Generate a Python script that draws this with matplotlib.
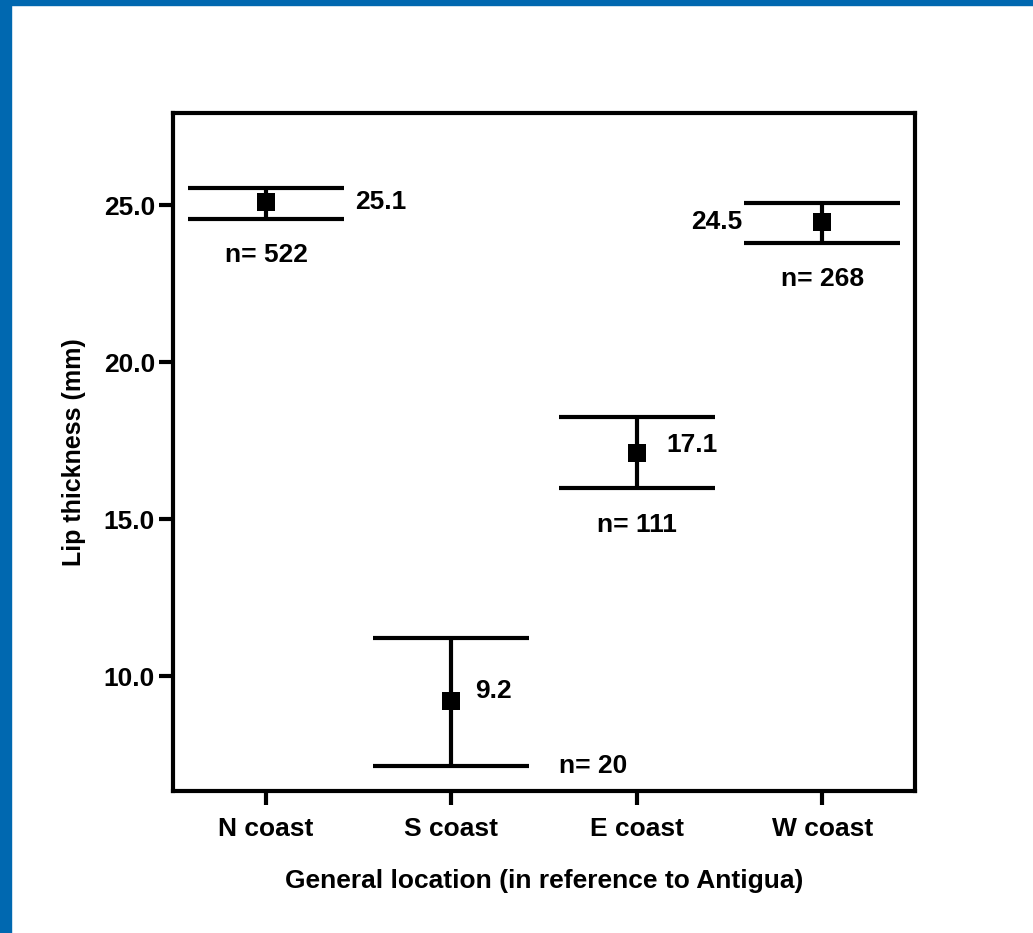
import numpy as np
import matplotlib
matplotlib.use("Agg")
import matplotlib.pyplot as plt
from matplotlib.patches import Rectangle

plt.rcParams['font.family'] = ['Liberation Sans', 'DejaVu Sans']
plt.rcParams['font.weight'] = 'bold'

# data
locations = ["N coast", "S coast", "E coast", "W coast"]
means = [25.1, 9.2, 17.1, 24.45]
upper = [25.55, 11.2, 18.25, 25.05]
lower = [24.55, 7.15, 16.0, 23.8]
mean_labels = ["25.1", "9.2", "17.1", "24.5"]
n_labels = ["n= 522", "n= 20", "n= 111", "n= 268"]
yticks = [10.0, 15.0, 20.0, 25.0]

x = np.arange(len(locations))
means = np.array(means)
err = [means - np.array(lower), np.array(upper) - means]

fig = plt.figure(figsize=(10.33, 9.33), dpi=100)
ax = fig.add_axes([173/1033, 1 - 791/933, (915-173)/1033, (791-113)/933])

# blue frame on left and top of the slide
blue = "#0068B0"
fig.patches.append(Rectangle((0, 0), 11/1033, 1, transform=fig.transFigure, color=blue, zorder=0))
fig.patches.append(Rectangle((0, 1 - 5/933), 1, 5/933, transform=fig.transFigure, color=blue, zorder=0))

ax.set_xlim(-0.5, 3.5)
ax.set_ylim(6.34, 27.93)
ax.errorbar(x, means, yerr=err, fmt='none', ecolor='black', elinewidth=3,
            capsize=56.5, capthick=3)
ax.plot(x, means, 's', color='black', ms=13, mew=0, zorder=3)

FS = 19
# value labels (pixel offsets from the mean point)
val_off = [(89, 0), (24, 10), (30, 8), (-80, 0)]
val_ha = ['left', 'left', 'left', 'right']
n_off = [(1, -53), (142, 0), (0, -72), (0, -57)]
for i in range(len(x)):
    ax.annotate(mean_labels[i], (x[i], means[i]), xytext=val_off[i], textcoords='offset pixels',
                ha=val_ha[i], va='center', fontsize=FS, fontweight='bold')
    ref_y = lower[i] if i == 1 else means[i]
    ax.annotate(n_labels[i], (x[i], ref_y), xytext=n_off[i],
                textcoords='offset pixels', ha='center', va='center', fontsize=FS, fontweight='bold')

ax.set_xticks(x)
ax.set_xticklabels(locations, fontsize=FS, fontweight='bold')
ax.set_yticks(yticks)
ax.set_yticklabels([f"{v:.1f}" for v in yticks], fontsize=FS, fontweight='bold')
ax.tick_params(width=3, length=10, pad=3)
ax.tick_params(axis='x', pad=9)
for s in ax.spines.values():
    s.set_linewidth(3)

ax.set_xlabel("General location (in reference to Antigua)", fontsize=FS, fontweight='bold', labelpad=20)
ax.set_ylabel("Lip thickness (mm)", fontsize=18, fontweight='bold', labelpad=13)

fig.savefig("out.png", dpi=100)
